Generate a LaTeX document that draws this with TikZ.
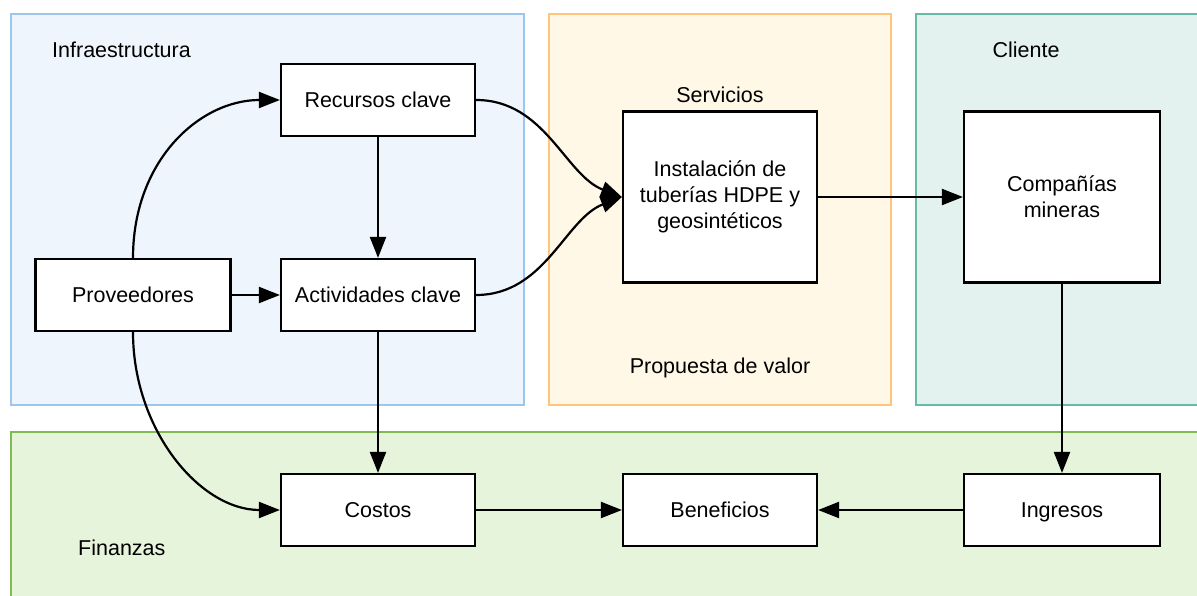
\documentclass[tikz,border=0pt]{standalone}
\usepackage{fontspec}
\setmainfont{Liberation Sans}
\usetikzlibrary{arrows.meta}
\definecolor{bluefill}{HTML}{EEF5FC}
\definecolor{blueline}{HTML}{9CC6EC}
\definecolor{orfill}{HTML}{FFF8E7}
\definecolor{orline}{HTML}{FFC57A}
\definecolor{tealfill}{HTML}{E3F2EE}
\definecolor{tealline}{HTML}{66BBA7}
\definecolor{grfill}{HTML}{E7F4DC}
\definecolor{grline}{HTML}{80BB52}
\tikzset{
  region/.style={line width=2pt},
  box/.style={draw=black, fill=white, line width=2.2pt, minimum width=194pt, minimum height=72pt, align=center, inner sep=2pt, font=\fontsize{21.5}{26}\selectfont},
  lbl/.style={font=\fontsize{21.5}{26}\selectfont, inner sep=0pt},
  conn/.style={line width=2.2pt, -{Triangle[length=21pt,width=16pt]}}
}
\begin{document}
\begin{tikzpicture}[x=1pt,y=-1pt]
\useasboundingbox (0,0) rectangle (1197,596);
\clip (0,0) rectangle (1197,596);
\fill[white] (0,0) rectangle (1197,596);
% regions
\draw[region, draw=blueline, fill=bluefill] (11,14) rectangle (524,405);
\draw[region, draw=orline, fill=orfill] (549,14) rectangle (891,405);
\draw[region, draw=tealline, fill=tealfill] (916,14) rectangle (1210,405);
\draw[region, draw=grline, fill=grfill] (11,432) rectangle (1210,610);
% labels
\node[lbl, anchor=west] (tinfra) at (52,50) {Infraestructura};
\node[lbl] (tserv) at (720,95) {Servicios};
\node[lbl] (tprop) at (720,368) {Propuesta de valor};
\node[lbl] (tcli) at (1026,50) {Cliente};
\node[lbl, anchor=west] (tfin) at (78,548) {Finanzas};
% boxes
\node[box] (rec) at (378,100) {Recursos clave};
\node[box] (act) at (378,295) {Actividades clave};
\node[box, minimum width=195pt] (prov) at (133,295) {Proveedores};
\node[box, minimum height=171pt] (inst) at (720,197) {Instalación de\\tuberías HDPE y\\geosintéticos};
\node[box, minimum width=196pt, minimum height=171pt] (comp) at (1062,197) {Compañías\\mineras};
\node[box] (cost) at (378,510) {Costos};
\node[box] (ben) at (720,510) {Beneficios};
\node[box, minimum width=196pt, text depth=0pt] (ing) at (1062,510) {Ingresos};
% connectors
\draw[conn] (prov.north) .. controls (133,160) and (200,100) .. (rec.west);
\draw[conn] (prov.south) .. controls (133,430) and (200,510) .. (cost.west);
\draw[conn] (prov.east) -- (act.west);
\draw[conn] (rec.south) -- (act.north);
\draw[conn] (rec.east) .. controls (545,100) and (565,175) .. (inst.west);
\draw[conn] (act.east) .. controls (545,295) and (565,219) .. (inst.west);
\draw[conn] (act.south) -- (cost.north);
\draw[conn] (inst.east) -- (comp.west);
\draw[conn] (comp.south) -- (ing.north);
\draw[conn] (cost.east) -- (ben.west);
\draw[conn] (ing.west) -- (ben.east);
\end{tikzpicture}
\end{document}
